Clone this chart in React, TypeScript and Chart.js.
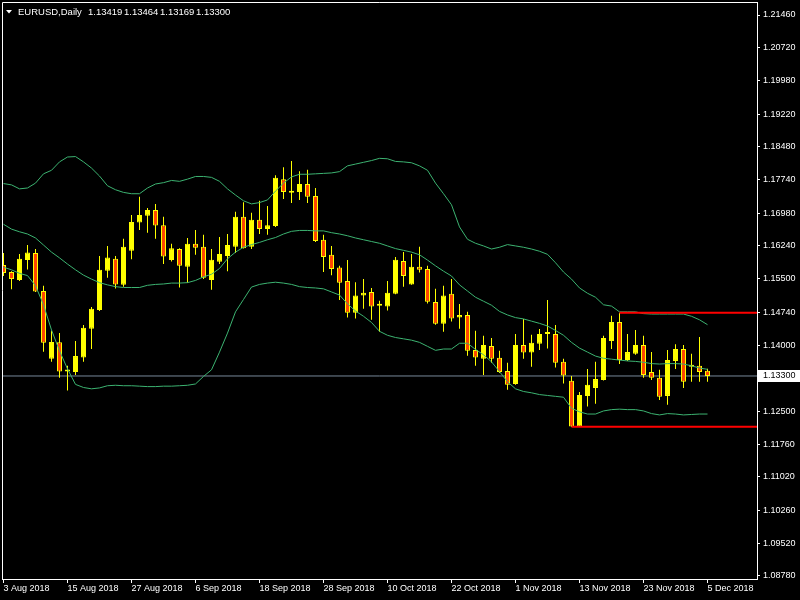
import React, { useEffect, useRef } from "react";
import { Chart, registerables } from "chart.js";

Chart.register(...registerables);

// ---- Daily EURUSD candles (index 0 = 3 Aug 2018 ... 88 = 5 Dec 2018) ----
const OPEN = [
  1.1581, 1.1565, 1.1547, 1.1592, 1.1608, 1.1522, 1.1369, 1.1406, 1.134, 1.1339,
  1.1372, 1.1437, 1.1479, 1.1568, 1.1595, 1.1536, 1.1613, 1.1677, 1.1692, 1.1705,
  1.1671, 1.1592, 1.1617, 1.1577, 1.1629, 1.1622, 1.1547, 1.1588, 1.1601, 1.1622,
  1.169, 1.1622, 1.1683, 1.1662, 1.1669, 1.1775, 1.1744, 1.1746, 1.1764, 1.1737,
  1.1638, 1.1604, 1.1575, 1.1545, 1.1473, 1.1512, 1.152, 1.1489, 1.1487, 1.1516,
  1.159, 1.1537, 1.1577, 1.1572, 1.1497, 1.1448, 1.1516, 1.1462, 1.1468, 1.1389,
  1.1369, 1.1398, 1.1371, 1.1341, 1.1312, 1.14, 1.1383, 1.1403, 1.1425, 1.1425,
  1.1362, 1.1319, 1.1216, 1.1285, 1.1303, 1.1321, 1.1409, 1.1452, 1.1366, 1.138,
  1.14, 1.1339, 1.1326, 1.1285, 1.1364, 1.1391, 1.1351, 1.1353, 1.13419,
];
const HIGH = [
  1.1608, 1.1567, 1.1606, 1.1626, 1.1617, 1.1534, 1.1432, 1.1427, 1.1353, 1.1409,
  1.1445, 1.1486, 1.1601, 1.1624, 1.1601, 1.164, 1.1694, 1.1735, 1.171, 1.1719,
  1.169, 1.1629, 1.1619, 1.1642, 1.166, 1.1649, 1.1617, 1.1644, 1.1651, 1.1701,
  1.1723, 1.1699, 1.1726, 1.1714, 1.1784, 1.1802, 1.1816, 1.1793, 1.1796, 1.1755,
  1.1649, 1.1624, 1.1579, 1.1592, 1.1542, 1.1549, 1.1529, 1.15, 1.1545, 1.1599,
  1.161, 1.1606, 1.1622, 1.1579, 1.1527, 1.1534, 1.1549, 1.1493, 1.1475, 1.1432,
  1.1421, 1.1416, 1.1387, 1.136, 1.1425, 1.1459, 1.1423, 1.1436, 1.1502, 1.1445,
  1.1369, 1.133, 1.1294, 1.1346, 1.1362, 1.1421, 1.1466, 1.1473, 1.1425, 1.1434,
  1.1421, 1.1384, 1.1344, 1.1389, 1.1402, 1.14, 1.138, 1.1418, 1.13464,
];
const LOW = [
  1.1556, 1.1526, 1.1545, 1.1571, 1.152, 1.1385, 1.1362, 1.1326, 1.1297, 1.1332,
  1.1362, 1.1391, 1.1477, 1.1552, 1.1528, 1.1532, 1.1594, 1.166, 1.1654, 1.164,
  1.1583, 1.1589, 1.153, 1.1541, 1.1604, 1.1549, 1.1525, 1.1583, 1.1567, 1.1608,
  1.1618, 1.1617, 1.1651, 1.1649, 1.1667, 1.173, 1.1721, 1.1728, 1.1721, 1.1633,
  1.1565, 1.1558, 1.1502, 1.1462, 1.146, 1.1482, 1.1457, 1.143, 1.1478, 1.1515,
  1.1532, 1.1536, 1.1564, 1.1494, 1.1446, 1.143, 1.1453, 1.1437, 1.1376, 1.1353,
  1.1332, 1.136, 1.1337, 1.1299, 1.131, 1.1369, 1.1351, 1.1389, 1.1392, 1.1349,
  1.1313, 1.1215, 1.1215, 1.1261, 1.1267, 1.132, 1.1391, 1.1357, 1.1364, 1.1378,
  1.1326, 1.1321, 1.1276, 1.1265, 1.1346, 1.1303, 1.1317, 1.1317, 1.13169,
];
const CLOSE = [
  1.1563, 1.1549, 1.1595, 1.1609, 1.1521, 1.1405, 1.1407, 1.134, 1.1343, 1.1375,
  1.1439, 1.1482, 1.157, 1.1598, 1.1537, 1.1622, 1.1678, 1.1694, 1.1705, 1.167,
  1.16, 1.1619, 1.1579, 1.1629, 1.162, 1.1552, 1.1593, 1.1606, 1.1626, 1.169,
  1.1619, 1.1683, 1.1662, 1.1671, 1.1778, 1.1746, 1.1748, 1.1764, 1.1735, 1.1635,
  1.1599, 1.1572, 1.1541, 1.1473, 1.1512, 1.1518, 1.1487, 1.149, 1.1518, 1.1593,
  1.1556, 1.1577, 1.157, 1.1498, 1.1448, 1.1512, 1.146, 1.1468, 1.1387, 1.1372,
  1.14, 1.1369, 1.1339, 1.131, 1.14, 1.1383, 1.1405, 1.1425, 1.1426, 1.136,
  1.1331, 1.1216, 1.1287, 1.131, 1.1323, 1.1416, 1.1452, 1.1366, 1.1384, 1.14,
  1.1332, 1.1326, 1.1283, 1.1366, 1.1391, 1.1317, 1.1352, 1.1339, 1.133,
];

// ---- Bollinger bands (20, 2) ----
const BB_UPPER = [
  1.1765, 1.1762, 1.1753, 1.1755, 1.1766, 1.1787, 1.1795, 1.1814, 1.1825, 1.1826,
  1.1814, 1.18, 1.1782, 1.176, 1.1751, 1.1745, 1.1742, 1.1742, 1.1755, 1.1764,
  1.1767, 1.1772, 1.177, 1.1775, 1.1781, 1.1781, 1.1779, 1.177, 1.1753, 1.1739,
  1.1726, 1.1719, 1.1722, 1.1728, 1.1748, 1.1766, 1.178, 1.1786, 1.1786, 1.1787,
  1.1788, 1.1789, 1.1792, 1.1805, 1.1809, 1.1813, 1.1817, 1.1822, 1.1821, 1.1815,
  1.1814, 1.1812, 1.1805, 1.1795, 1.1766, 1.1742, 1.1717, 1.1667, 1.1639, 1.163,
  1.1624, 1.1617, 1.1621, 1.1627, 1.1624, 1.1621, 1.1617, 1.1612, 1.1605, 1.1586,
  1.1565, 1.1549, 1.1529, 1.1517, 1.1508, 1.1491, 1.1488, 1.1475, 1.1475, 1.1475,
  1.1471, 1.147, 1.147, 1.147, 1.147, 1.147, 1.1465, 1.1457, 1.1446,
];
const BB_MIDDLE = [
  1.1673, 1.1662, 1.1656, 1.1651, 1.1642, 1.1626, 1.161, 1.1597, 1.1583, 1.157,
  1.1558, 1.1549, 1.1541, 1.1536, 1.1532, 1.153, 1.153, 1.153, 1.1535, 1.1537,
  1.1538, 1.154, 1.154, 1.1541, 1.1546, 1.1554, 1.156, 1.1573, 1.1595, 1.161,
  1.1621, 1.1627, 1.1632, 1.1638, 1.1643, 1.1651, 1.1657, 1.1659, 1.1659, 1.1658,
  1.1658, 1.1654, 1.1651, 1.1647, 1.1642, 1.1638, 1.1634, 1.163, 1.1624, 1.1618,
  1.1614, 1.161, 1.1604, 1.1592, 1.1579, 1.1567, 1.1556, 1.1536, 1.1522, 1.1508,
  1.1499, 1.149, 1.1476, 1.1468, 1.1462, 1.1459, 1.1454, 1.1449, 1.1443, 1.1433,
  1.1422, 1.1406, 1.1393, 1.1384, 1.1375, 1.137, 1.1368, 1.1366, 1.1364, 1.1363,
  1.1361, 1.1358, 1.1357, 1.1358, 1.1358, 1.1357, 1.1353, 1.1348, 1.1345,
];
const BB_LOWER = [
  1.1576, 1.157, 1.1562, 1.1557, 1.1534, 1.1491, 1.1434, 1.1387, 1.1346, 1.1311,
  1.1304, 1.1301, 1.1303, 1.1308, 1.1309, 1.1308, 1.1308, 1.1307, 1.1306, 1.1306,
  1.1307, 1.1307, 1.1308, 1.1309, 1.1312, 1.1329, 1.1344, 1.1384, 1.1427, 1.1475,
  1.1503, 1.1531, 1.1537, 1.154, 1.1542, 1.154, 1.1537, 1.1532, 1.153, 1.1529,
  1.1527, 1.152, 1.1513, 1.1493, 1.1477, 1.1465, 1.1451, 1.1431, 1.1422, 1.1417,
  1.1414, 1.1411, 1.1406, 1.1397, 1.1388, 1.1391, 1.1391, 1.1404, 1.1404, 1.139,
  1.1378, 1.1362, 1.134, 1.1317, 1.1301, 1.1295, 1.1292, 1.1288, 1.1286, 1.1284,
  1.1282, 1.1257, 1.1249, 1.1244, 1.1244, 1.1251, 1.1254, 1.1255, 1.1254, 1.1254,
  1.1251, 1.1245, 1.1242, 1.1245, 1.1244, 1.1242, 1.1243, 1.1244, 1.1244,
];

// ---- Axis labels ----
const X_TICK_INDEX = [0, 8, 16, 24, 32, 40, 48, 56, 64, 72, 80, 88];
const X_TICK_LABELS = [
  "3 Aug 2018", "15 Aug 2018", "27 Aug 2018", "6 Sep 2018", "18 Sep 2018", "28 Sep 2018",
  "10 Oct 2018", "22 Oct 2018", "1 Nov 2018", "13 Nov 2018", "23 Nov 2018", "5 Dec 2018",
];
const Y_TICKS = [
  1.2146, 1.2072, 1.1998, 1.1922, 1.1848, 1.1774, 1.1698, 1.1624, 1.155,
  1.1474, 1.14, 1.125, 1.1176, 1.1102, 1.1026, 1.0952, 1.0878,
];

// ---- Levels & header ----
const CURRENT_PRICE = 1.133;
const RESISTANCE_START = 77;
const RESISTANCE_PRICE = 1.1473;
const SUPPORT_START = 71;
const SUPPORT_PRICE = 1.1215;
const TITLE_SYMBOL = "EURUSD,Daily";
const TITLE_VALUES = ["1.13419", "1.13464", "1.13169", "1.13300"];

// ---- Axis ranges ----
const X_MIN = -0.1875;
const X_MAX = 94.1875;
const Y_MIN = 1.08711;
const Y_MAX = 1.21754;

const FONT = { family: "'Liberation Sans', Arial, sans-serif", size: 9 };
const BULL = "#FFFF00";
const BEAR = "#FF4500";
const BAND = "#3CB371";

const framePlugin = {
  id: "mtFrame",
  afterDraw(chart: any) {
    const { ctx, chartArea, scales } = chart;
    ctx.save();
    ctx.strokeStyle = "#FFFFFF";
    ctx.lineWidth = 1;
    ctx.beginPath();
    const l = Math.floor(chartArea.left) + 0.5;
    const t = Math.floor(chartArea.top) + 0.5;
    ctx.moveTo(l, chartArea.bottom);
    ctx.lineTo(l, t);
    ctx.lineTo(chartArea.right, t);
    ctx.stroke();

    // header
    ctx.fillStyle = "#FFFFFF";
    ctx.beginPath();
    ctx.moveTo(6, 10);
    ctx.lineTo(12, 10);
    ctx.lineTo(9, 13.5);
    ctx.closePath();
    ctx.fill();
    ctx.font = `9.5px ${FONT.family}`;
    ctx.textBaseline = "alphabetic";
    ctx.textAlign = "left";
    ctx.fillText(TITLE_SYMBOL, 18, 14.5);
    TITLE_VALUES.forEach((t2, i) => ctx.fillText(t2, 88 + i * 36, 14.5));

    // current price label
    const y = scales.y.getPixelForValue(CURRENT_PRICE);
    const x0 = Math.floor(chartArea.right) + 1;
    ctx.fillStyle = "#FFFFFF";
    ctx.fillRect(x0, Math.round(y) - 6, chart.width - x0, 12);
    ctx.fillStyle = "#000000";
    ctx.font = `${FONT.size}px ${FONT.family}`;
    ctx.textBaseline = "middle";
    ctx.fillText(CURRENT_PRICE.toFixed(5), x0 + 5, Math.round(y));
    ctx.restore();
  },
};

export default function App() {
  const ref = useRef<HTMLCanvasElement>(null);

  useEffect(() => {
    const idx = OPEN.map((_, i) => i);
    const chart = new Chart(ref.current as HTMLCanvasElement, {
      type: "bar",
      data: {
        datasets: [
          {
            type: "line",
            label: "Resistance",
            data: [
              { x: RESISTANCE_START, y: RESISTANCE_PRICE },
              { x: X_MAX, y: RESISTANCE_PRICE },
            ],
            borderColor: "#FF0000",
            borderWidth: 2,
            pointRadius: 0,
            order: 0,
          },
          {
            type: "line",
            label: "Support",
            data: [
              { x: SUPPORT_START, y: SUPPORT_PRICE },
              { x: X_MAX, y: SUPPORT_PRICE },
            ],
            borderColor: "#FF0000",
            borderWidth: 2,
            pointRadius: 0,
            order: 0,
          },
          {
            type: "line",
            label: "BB upper",
            data: BB_UPPER.map((v, i) => ({ x: i, y: v })),
            borderColor: BAND,
            borderWidth: 1,
            pointRadius: 0,
            tension: 0,
            order: 1,
          },
          {
            type: "line",
            label: "BB middle",
            data: BB_MIDDLE.map((v, i) => ({ x: i, y: v })),
            borderColor: BAND,
            borderWidth: 1,
            pointRadius: 0,
            tension: 0,
            order: 1,
          },
          {
            type: "line",
            label: "BB lower",
            data: BB_LOWER.map((v, i) => ({ x: i, y: v })),
            borderColor: BAND,
            borderWidth: 1,
            pointRadius: 0,
            tension: 0,
            order: 1,
          },
          {
            type: "bar",
            label: "Body",
            data: idx.map((i) => ({ x: i, y: [OPEN[i], CLOSE[i]] })) as any,
            backgroundColor: idx.map((i) => (CLOSE[i] >= OPEN[i] ? BULL : BEAR)),
            borderColor: BULL,
            borderWidth: 1,
            borderSkipped: false,
            barThickness: 5,
            minBarLength: 2,
            grouped: false,
            inflateAmount: 0,
            order: 3,
          } as any,
          {
            type: "bar",
            label: "Wick",
            data: idx.map((i) => ({ x: i, y: [LOW[i], HIGH[i]] })) as any,
            backgroundColor: BULL,
            borderWidth: 0,
            barThickness: 1,
            grouped: false,
            inflateAmount: 0,
            order: 4,
          } as any,
          {
            type: "line",
            label: "Price",
            data: [
              { x: X_MIN, y: CURRENT_PRICE },
              { x: X_MAX, y: CURRENT_PRICE },
            ],
            borderColor: "#778899",
            borderWidth: 1,
            pointRadius: 0,
            order: 5,
          },
        ],
      },
      options: {
        animation: false,
        responsive: false,
        maintainAspectRatio: false,
        devicePixelRatio: 1,
        layout: { padding: { left: 2, top: 2, right: 0, bottom: 0 } },
        plugins: { legend: { display: false }, tooltip: { enabled: false }, title: { display: false } },
        events: [],
        scales: {
          x: {
            type: "linear",
            min: X_MIN,
            max: X_MAX,
            offset: false,
            grid: {
              display: true,
              drawOnChartArea: false,
              drawTicks: true,
              tickLength: 4,
              color: "#FFFFFF",
              offset: false,
            },
            border: { display: true, color: "#FFFFFF", width: 1 },
            ticks: {
              color: "#FFFFFF",
              font: FONT,
              autoSkip: false,
              maxRotation: 0,
              minRotation: 0,
              align: "start",
              padding: 0,
              callback: (v: any) => {
                const k = X_TICK_INDEX.indexOf(Number(v));
                return k >= 0 ? X_TICK_LABELS[k] : "";
              },
            },
            afterBuildTicks: (s: any) => {
              s.ticks = X_TICK_INDEX.map((v) => ({ value: v }));
            },
            afterFit: (s: any) => {
              s.height = 21;
              s.paddingLeft = 0;
              s.paddingRight = 0;
              s.paddingTop = 0;
              s.paddingBottom = 0;
            },
          } as any,
          y: {
            type: "linear",
            position: "right",
            min: Y_MIN,
            max: Y_MAX,
            grid: {
              display: true,
              drawOnChartArea: false,
              drawTicks: true,
              tickLength: 3,
              color: "#FFFFFF",
            },
            border: { display: true, color: "#FFFFFF", width: 1 },
            ticks: {
              color: "#FFFFFF",
              font: FONT,
              padding: 3,
              autoSkip: false,
              callback: (v: any) => Number(v).toFixed(5),
            },
            afterBuildTicks: (s: any) => {
              s.ticks = Y_TICKS.map((v) => ({ value: v }));
            },
            afterFit: (s: any) => {
              s.width = 43;
              s.paddingLeft = 0;
              s.paddingRight = 0;
              s.paddingTop = 0;
              s.paddingBottom = 0;
            },
          } as any,
        },
      },
      plugins: [framePlugin],
    });
    return () => chart.destroy();
  }, []);

  return (
    <div
      style={{
        position: "absolute",
        left: 0,
        top: 0,
        width: 800,
        height: 600,
        background: "#000000",
      }}
    >
      <canvas
        ref={ref}
        width={800}
        height={600}
        style={{ display: "block", width: 800, height: 600, background: "#000000" }}
      />
    </div>
  );
}
